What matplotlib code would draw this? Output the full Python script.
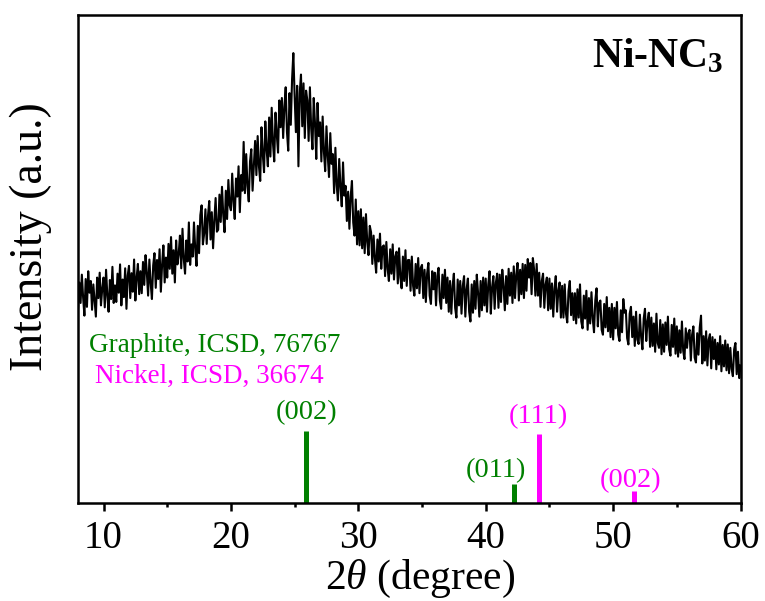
import numpy as np
import matplotlib.pyplot as plt

plt.rcParams['font.family'] = 'Liberation Serif'
plt.rcParams['mathtext.fontset'] = 'custom'
plt.rcParams['mathtext.rm'] = 'Liberation Serif'
plt.rcParams['mathtext.it'] = 'Liberation Serif:italic'
plt.rcParams['mathtext.bf'] = 'Liberation Serif:bold'

# measured pattern, 2theta = 8.0 ... 60.0 in 0.1 deg steps
two_theta = np.round(np.arange(8.0, 60.05, 0.1), 1)
intensity = [
    398, 452, 410, 468, 421, 384, 459, 402, 475, 431,
    455, 396, 448, 414, 382, 462, 420, 472, 405, 439,
    462, 401, 478, 425, 392, 457, 418, 484, 410, 446,
    412, 470, 431, 489, 405, 458, 422, 481, 398, 466,
    486, 420, 471, 433, 499, 415, 462, 490, 428, 475,
    430, 494, 447, 508, 472, 425, 499, 451, 418, 487,
    512, 441, 498, 459, 520, 433, 489, 528, 452, 503,
    462, 531, 480, 545, 470, 518, 452, 538, 489, 510,
    548, 481, 562, 500, 470, 538, 495, 575, 488, 530,
    505, 575, 520, 486, 568, 512, 590, 610, 530, 552,
    602, 531, 588, 619, 540, 596, 522, 580, 625, 556,
    560, 632, 576, 648, 590, 555, 640, 582, 662, 610,
    600, 675, 618, 582, 665, 628, 690, 596, 672, 640,
    740, 635, 715, 650, 618, 700, 725, 640, 690, 742,
    672, 752, 690, 660, 770, 715, 678, 782, 725, 690,
    790, 710, 810, 738, 700, 800, 755, 718, 825, 770,
    830, 748, 812, 852, 760, 722, 840, 775, 868, 922,
    835, 760, 855, 690, 840, 878, 772, 860, 748, 845,
    825, 742, 852, 768, 725, 830, 778, 705, 820, 752,
    780, 700, 792, 720, 680, 772, 712, 668, 758, 695,
    715, 635, 728, 652, 620, 705, 648, 608, 698, 630,
    650, 578, 638, 562, 628, 660, 575, 548, 622, 530,
    598, 528, 602, 522, 585, 512, 592, 535, 508, 568,
    555, 490, 548, 502, 472, 540, 495, 552, 480, 525,
    528, 465, 535, 480, 455, 520, 470, 530, 458, 505,
    515, 450, 522, 462, 440, 505, 455, 518, 445, 498,
    498, 435, 505, 445, 425, 490, 440, 502, 430, 482,
    488, 420, 478, 412, 470, 492, 425, 408, 475, 438,
    472, 405, 465, 482, 415, 398, 468, 420, 478, 410,
    462, 392, 455, 388, 445, 470, 400, 380, 458, 405,
    455, 388, 445, 465, 382, 438, 460, 392, 372, 448,
    390, 455, 398, 468, 430, 382, 455, 395, 462, 405,
    460, 392, 448, 475, 388, 442, 465, 398, 452, 470,
    400, 468, 412, 478, 445, 395, 465, 408, 480, 425,
    472, 410, 485, 420, 468, 492, 415, 478, 428, 490,
    420, 488, 435, 500, 462, 492, 428, 502, 478, 425,
    490, 425, 472, 402, 455, 470, 400, 448, 462, 395,
    460, 398, 450, 382, 440, 465, 392, 435, 452, 380,
    445, 380, 448, 388, 370, 435, 455, 385, 430, 375,
    430, 368, 438, 380, 448, 372, 358, 425, 378, 435,
    355, 420, 368, 432, 378, 350, 415, 440, 362, 410,
    415, 355, 345, 408, 360, 422, 352, 400, 340, 408,
    335, 400, 358, 412, 345, 332, 395, 350, 418, 390,
    395, 338, 325, 388, 402, 340, 382, 322, 392, 335,
    326, 386, 340, 315, 378, 398, 332, 372, 390, 320,
    380, 322, 368, 310, 388, 328, 318, 375, 305, 366,
    310, 370, 324, 382, 315, 302, 365, 320, 378, 306,
    362, 300, 354, 308, 372, 312, 295, 358, 318, 348,
    355, 292, 345, 362, 298, 288, 348, 304, 360, 384,
    286, 342, 292, 352, 282, 335, 346, 276, 340, 295,
    335, 274, 328, 284, 342, 270, 324, 280, 333, 272,
    325, 266, 318, 275, 260, 315, 328, 264, 310, 256,
    282,
]

# reference sticks (drawn at the bottom of the frame)
graphite_pos = [25.9, 42.2]
graphite_int = [148, 40]
graphite_hkl = ['(002)', '(011)']
nickel_pos = [44.2, 51.6]
nickel_int = [141, 25]
nickel_hkl = ['(111)', '(002)']

green = '#008000'
magenta = '#FF00FF'

fig, ax = plt.subplots(figsize=(7.65, 6.01), dpi=100)
fig.subplots_adjust(left=0.102, right=0.968, bottom=0.163, top=0.975)

ax.plot(two_theta, intensity, color='black', lw=1.5)

ax.vlines(graphite_pos, 0, graphite_int, color=green, lw=3.6)
ax.vlines(nickel_pos, 0, nickel_int, color=magenta, lw=3.6)

# hkl labels above the sticks
ax.text(25.9, 172, graphite_hkl[0], color=green, fontsize=20.5, ha='center', va='baseline')
ax.text(40.8, 53, graphite_hkl[1], color=green, fontsize=20.5, ha='center', va='baseline')
ax.text(44.1, 164, nickel_hkl[0], color=magenta, fontsize=20.5, ha='center', va='baseline')
ax.text(51.4, 33, nickel_hkl[1], color=magenta, fontsize=20.5, ha='center', va='baseline')

ax.text(8.85, 309, 'Graphite, ICSD, 76767', color=green, fontsize=19.5, va='baseline')
ax.text(9.35, 246, 'Nickel, ICSD, 36674', color=magenta, fontsize=19.5, va='baseline')

ax.text(58.7, 893, r'Ni-NC$_\mathbf{3}$', fontsize=30, fontweight='bold',
        ha='right', va='baseline')

ax.set_xlim(8, 60)
ax.set_ylim(0, 1000)
ax.set_xticks([10, 20, 30, 40, 50, 60])
ax.set_xticks([15, 25, 35, 45, 55], minor=True)
ax.set_yticks([])
ax.tick_params(axis='x', which='major', direction='out', length=6, width=1.8,
               labelsize=28, pad=6)
ax.tick_params(axis='x', which='minor', direction='out', length=3, width=1.8)
for sp in ax.spines.values():
    sp.set_linewidth(1.8)

ax.set_xlabel(r'2$\theta$ (degree)', fontsize=30)
ax.xaxis.set_label_coords(0.516, -0.113)
ax.set_ylabel('Intensity (a.u.)', fontsize=33)
ax.yaxis.set_label_coords(-0.039, 0.545)

fig.savefig('out.png', dpi=100)
